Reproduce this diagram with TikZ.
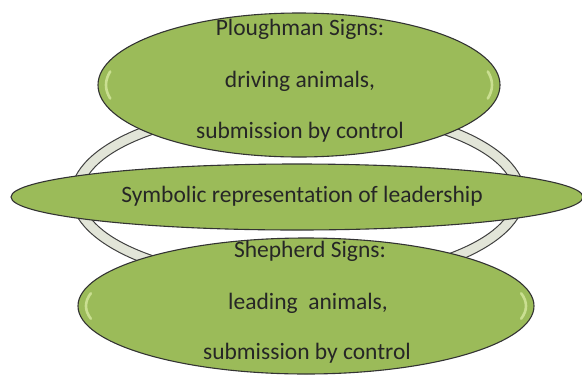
\documentclass[tikz,border=0pt]{standalone}
\usepackage{fontspec}
\setmainfont{Carlito}[Ligatures=NoCommon]
\begin{document}
\begin{tikzpicture}[x=1pt,y=-1pt,
  leaf/.style={draw=black!80, line width=1.1pt, fill=leafgreen},
  gloss/.style={draw=leafglow, draw opacity=0.8, line width=2.6pt, line cap=round},
  ringline/.style={draw=black!75, line width=1pt},
  lbl/.style={font=\fontsize{23.5}{23.5}\selectfont, text=black!85, inner sep=0pt}]
\definecolor{leafgreen}{RGB}{155,187,89}
\definecolor{leafglow}{RGB}{214,232,160}
\definecolor{ringgray}{RGB}{226,229,216}
\useasboundingbox (0,0) rectangle (582,376);
% ring behind the three ovals
\fill[ringgray, even odd rule] (298,195) ellipse [x radius=227, y radius=93]
                               (298,195) ellipse [x radius=216, y radius=82];
\draw[ringline] (298,195) ellipse [x radius=227, y radius=93];
\draw[ringline] (298,195) ellipse [x radius=216, y radius=82];
% upper oval
\path[leaf] (299,85) ellipse [x radius=201, y radius=72];
\draw[gloss] (299,85) ++(168:193 and 65) arc [start angle=168, end angle=192, x radius=193, y radius=65];
\draw[gloss] (299,85) ++(-12:193 and 65) arc [start angle=-12, end angle=12, x radius=193, y radius=65];
% lower oval
\path[leaf] (306,306) ellipse [x radius=228, y radius=68];
\draw[gloss] (306,306) ++(168:220 and 61) arc [start angle=168, end angle=192, x radius=220, y radius=61];
\draw[gloss] (306,306) ++(-12:220 and 61) arc [start angle=-12, end angle=12, x radius=220, y radius=61];
% middle oval
\path[leaf] (297,197) ellipse [x radius=286, y radius=33];
% labels
\node[lbl] (p1) at (300,29) {Ploughman Signs:};
\node[lbl] (p2) at (300,81) {driving animals,};
\node[lbl] (p3) at (300,132) {submission by control};
\node[lbl] (m) at (302,196) {Symbolic representation of leadership};
\node[lbl] (s1) at (310,251) {Shepherd Signs:};
\node[lbl] (s2) at (308,303) {leading\ \ animals,};
\node[lbl] (s3) at (307,353) {submission by control};
\end{tikzpicture}
\end{document}
